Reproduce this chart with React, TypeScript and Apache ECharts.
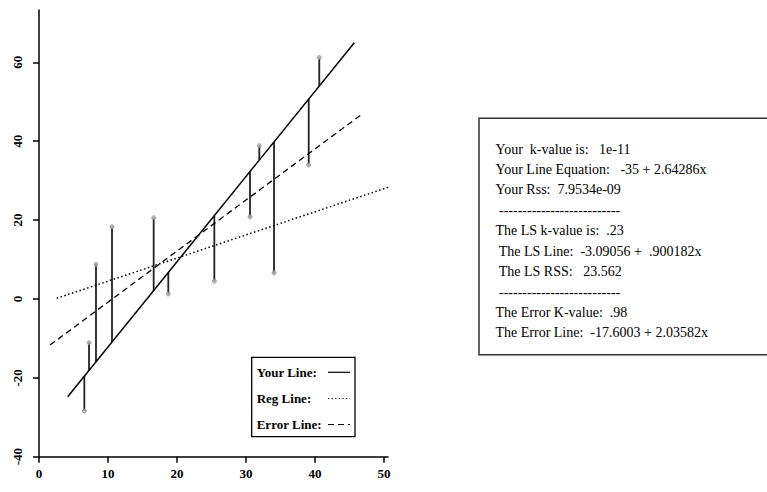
import React, { useEffect, useRef } from "react";
import * as echarts from "echarts";

const xTicks = [0, 10, 20, 30, 40, 50];
const yTicks = [-40, -20, 0, 20, 40, 60];

const pointX = [6.57, 7.25, 8.26, 10.58, 16.62, 18.74, 25.41, 30.58, 31.93, 34.06, 39.09, 40.62];
const pointY = [-28.4, -11.1, 8.8, 18.3, 20.6, 1.25, 4.5, 20.8, 38.85, 6.6, 33.96, 61.2];

const yourLine = [[4.16, -24.8], [45.7, 64.97]];
const regLine = [[2.57, 0.16], [50.87, 28.46]];
const errorLine = [[1.59, -11.7], [46.77, 46.8]];

const legendNames = ["Your Line:", "Reg Line:", "Error Line:"];

const boxLines = [
  "Your  k-value is:   1e-11",
  "Your Line Equation:   -35 + 2.64286x",
  "Your Rss:  7.9534e-09",
  " --------------------------",
  "The LS k-value is:  .23",
  " The LS Line:  -3.09056 +  .900182x",
  " The LS RSS:   23.562",
  " --------------------------",
  "The Error K-value:  .98",
  "The Error Line:  -17.6003 + 2.03582x",
];

const SERIF = '"Liberation Serif", "Times New Roman", serif';

function fitAt(x: number) {
  const [p0, p1] = yourLine;
  return p0[1] + ((p1[1] - p0[1]) * (x - p0[0])) / (p1[0] - p0[0]);
}

export default function App() {
  const ref = useRef<HTMLDivElement>(null);
  useEffect(() => {
    if (!ref.current) return;
    const chart = echarts.init(ref.current, undefined, { renderer: "svg" });
    const residuals = pointX.map((x, i) => [x, pointY[i], fitAt(x)]);
    const points = pointX.map((x, i) => [x, pointY[i]]);
    const legendY = [372.3, 398.5, 424.5];
    const legendDash: any[] = [null, [1.2, 2.4], [6, 4]];
    const graphic: any[] = [
      {
        type: "rect",
        shape: { x: 251.7, y: 357.3, width: 103.3, height: 79.4 },
        style: { fill: "#fff", stroke: "#000", lineWidth: 1.3 },
        z: 10,
      },
      ...legendNames.map((n, i) => ({
        type: "text",
        x: 256.7,
        y: legendY[i],
        z: 11,
        style: {
          text: n,
          font: `bold 13px ${SERIF}`,
          fill: "#000",
          verticalAlign: "middle",
          textAlign: "left",
        },
      })),
      ...legendNames.map((n, i) => ({
        type: "line",
        z: 11,
        shape: { x1: 328, y1: legendY[i], x2: 350, y2: legendY[i] },
        style: { stroke: "#000", lineWidth: 1.2, lineDash: legendDash[i] },
      })),
      {
        type: "rect",
        shape: { x: 479, y: 118.3, width: 320, height: 236.5 },
        style: { fill: "none", stroke: "#333", lineWidth: 1.5 },
      },
      ...boxLines.map((t, i) => ({
        type: "text",
        x: 495.5,
        y: 149 + i * 20.44,
        style: {
          text: t,
          font: `14px ${SERIF}`,
          fill: "#000",
          verticalAlign: "middle",
          textAlign: "left",
        },
      })),
    ];
    chart.setOption({
      animation: false,
      backgroundColor: "#fff",
      grid: { left: 39, top: 10, width: 349, height: 446.7 },
      xAxis: {
        type: "value",
        min: 0,
        max: 50.58,
        interval: 10,
        splitLine: { show: false },
        axisLine: { show: true, onZero: false, lineStyle: { color: "#000", width: 1.5 } },
        axisTick: { show: true, length: 6, customValues: xTicks, lineStyle: { color: "#000", width: 1.5 } },
        axisLabel: {
          customValues: xTicks,
          margin: 10,
          color: "#000",
          fontFamily: SERIF,
          fontWeight: "bold",
          fontSize: 13,
        },
      },
      yAxis: {
        type: "value",
        min: -40,
        max: 73.26,
        interval: 20,
        splitLine: { show: false },
        axisLine: { show: true, onZero: false, lineStyle: { color: "#000", width: 1.5 } },
        axisTick: { show: true, length: 6, customValues: yTicks, lineStyle: { color: "#000", width: 1.5 } },
        axisLabel: {
          customValues: yTicks,
          rotate: 90,
          margin: 15,
          color: "#000",
          fontFamily: SERIF,
          fontWeight: "bold",
          fontSize: 13,
        },
      },
      series: [
        {
          type: "custom",
          name: "residuals",
          data: residuals,
          encode: { x: 0, y: [1, 2] },
          renderItem: (params: any, api: any) => {
            const p1 = api.coord([api.value(0), api.value(1)]);
            const p2 = api.coord([api.value(0), api.value(2)]);
            return {
              type: "line",
              shape: { x1: p1[0], y1: p1[1], x2: p2[0], y2: p2[1] },
              style: { stroke: "#222", lineWidth: 1.8 },
            };
          },
          z: 2,
        },
        {
          type: "line",
          name: "Your Line",
          data: yourLine,
          showSymbol: false,
          symbol: "none",
          lineStyle: { color: "#000", width: 1.5, type: "solid" },
          z: 3,
        },
        {
          type: "line",
          name: "Reg Line",
          data: regLine,
          showSymbol: false,
          symbol: "none",
          clip: false,
          lineStyle: { color: "#000", width: 1.5, type: [1.5, 2.5] },
          z: 3,
        },
        {
          type: "line",
          name: "Error Line",
          data: errorLine,
          showSymbol: false,
          symbol: "none",
          lineStyle: { color: "#000", width: 1.3, type: [6, 4] },
          z: 3,
        },
        {
          type: "scatter",
          name: "points",
          data: points,
          symbol: "circle",
          symbolSize: 4,
          itemStyle: { color: "#aaa", borderColor: "#888", borderWidth: 0.8 },
          z: 4,
        },
      ],
      graphic,
    });
    return () => chart.dispose();
  }, []);
  return (
    <div
      ref={ref}
      style={{ position: "fixed", left: 0, top: 0, width: 767, height: 492, background: "#fff" }}
    />
  );
}
